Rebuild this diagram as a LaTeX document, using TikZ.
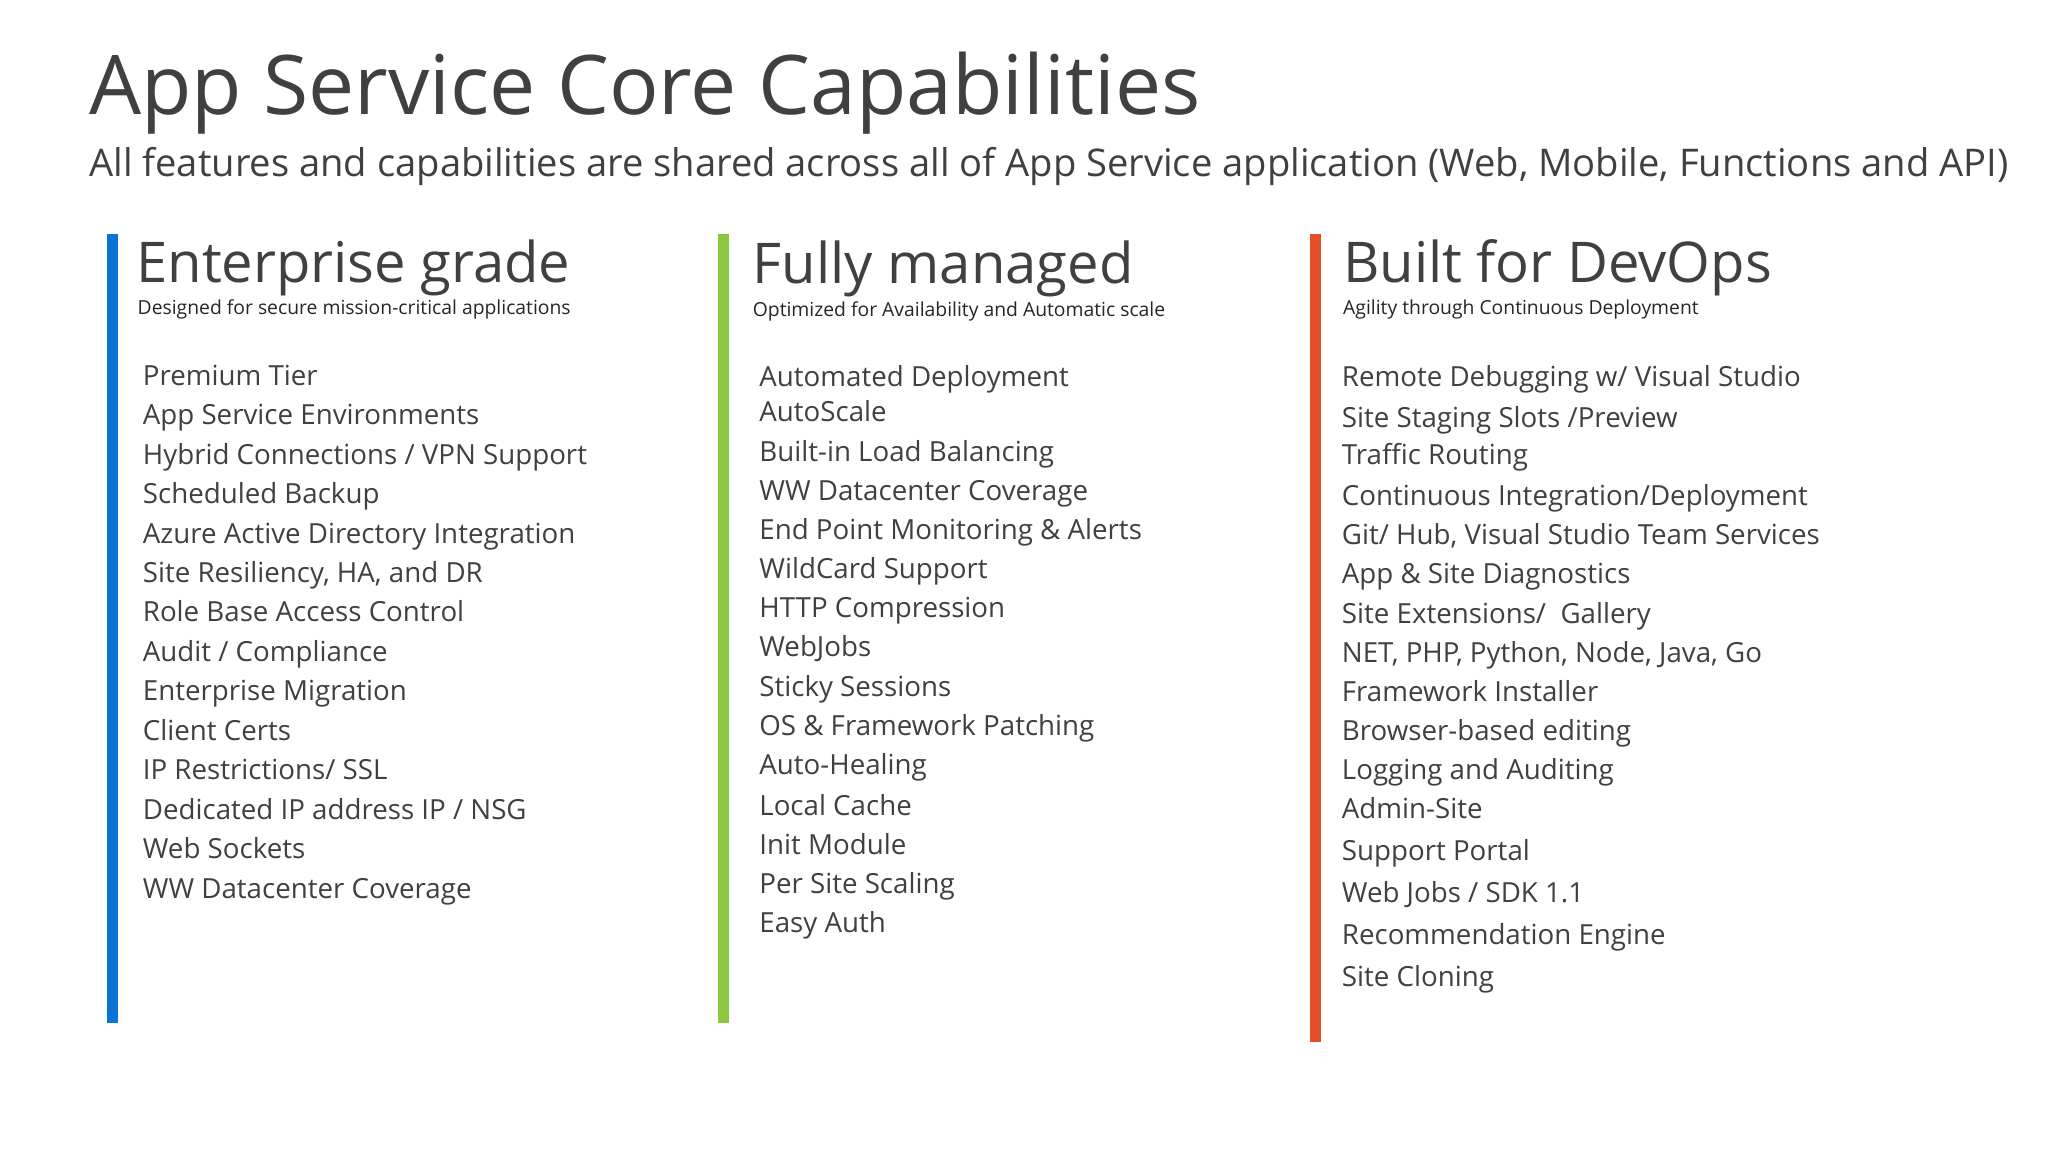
\documentclass[tikz,border=0pt]{standalone}
\usepackage{fontspec}
\setmainfont{Open Sans}
\definecolor{txt}{HTML}{404040}
\definecolor{cblue}{HTML}{0A74D6}
\definecolor{cgreen}{HTML}{8CC83F}
\definecolor{corange}{HTML}{E4502A}
\tikzset{
 t/.style={anchor=base west,inner sep=0pt,text=txt},
 item/.style={t,font=\fontsize{10.6}{12}\selectfont},
 head/.style={t,font=\fontsize{21.5}{24}\selectfont},
 captext/.style={t,font=\fontsize{7.4}{9}\selectfont,text=black!85},
 bar/.style={line width=4pt}
}
\begin{document}
\begin{tikzpicture}[x=0.5pt,y=-0.5pt]
\useasboundingbox[fill=white] (0,0) rectangle (1568,882);
\node[t,font=\fontsize{31.5}{36}\selectfont] (title) at (68,88) {App Service Core Capabilities};
\node[t,font=\fontsize{14.6}{17}\selectfont] (sub) at (68,135) {All features and capabilities are shared across all of App Service application (Web, Mobile, Functions and API)};
\draw[bar,cblue] (86,179) -- (86,783);
\draw[bar,cgreen] (554,179) -- (554,783);
\draw[bar,corange] (1007,179) -- (1007,798);
\node[head] (h1) at (104,216) {Enterprise grade};
\node[captext] (c1) at (105,241) {Designed for secure mission-critical applications};
\node[head] (h2) at (576,217) {Fully managed};
\node[captext] (c2) at (576,242) {Optimized for Availability and Automatic scale};
\node[head] (h3) at (1028,216) {Built for DevOps};
\node[captext] (c3) at (1028,241) {Agility through Continuous Deployment};
\foreach \s [count=\i] in {Premium Tier,App Service Environments,{Hybrid Connections / VPN Support},Scheduled Backup,Azure Active Directory Integration,{Site Resiliency, HA, and DR},Role Base Access Control,{Audit / Compliance},Enterprise Migration,Client Certs,{IP Restrictions/ SSL},{Dedicated IP address IP / NSG},Web Sockets,WW Datacenter Coverage}
  \node[item] (a\i) at (109,{295+30.2*(\i-1)}) {\s};
\foreach \y/\s [count=\i] in {296/{Automated Deployment},323/{AutoScale},353/{Built-in Load Balancing},383/{WW Datacenter Coverage},413/{End Point Monitoring \& Alerts},443/{WildCard Support},473/{HTTP Compression},503/{WebJobs},533/{Sticky Sessions},563/{OS \& Framework Patching},593/{Auto-Healing},624/{Local Cache},654/{Init Module},684/{Per Site Scaling},714/{Easy Auth}}
  \node[item] (b\i) at (581,\y) {\s};
\node[item] (d1) at (1027,296) {Remote Debugging w/ Visual Studio};
\node[item] (d2) at (1027,327) {Site Staging Slots /Preview};
\node[item] (d3) at (1027,356) {Traffic Routing};
\node[item] (d4) at (1027,387) {Continuous Integration/Deployment};
\node[item] (d5) at (1027,417) {Git/ Hub, Visual Studio Team Services};
\node[item] (d6) at (1027,447) {App \& Site Diagnostics};
\node[item] (d7) at (1027,477) {Site Extensions/\ \ Gallery};
\node[item] (d8) at (1027,507) {NET, PHP, Python, Node, Java, Go};
\node[item] (d9) at (1027,537) {Framework Installer};
\node[item] (d10) at (1027,567) {Browser-based editing};
\node[item] (d11) at (1027,597) {Logging and Auditing};
\node[item] (d12) at (1027,627) {Admin-Site};
\node[item] (d13) at (1027,659) {Support Portal};
\node[item] (d14) at (1027,691) {Web Jobs / SDK 1.1};
\node[item] (d15) at (1027,723) {Recommendation Engine};
\node[item] (d16) at (1027,755) {Site Cloning};
\end{tikzpicture}
\end{document}
